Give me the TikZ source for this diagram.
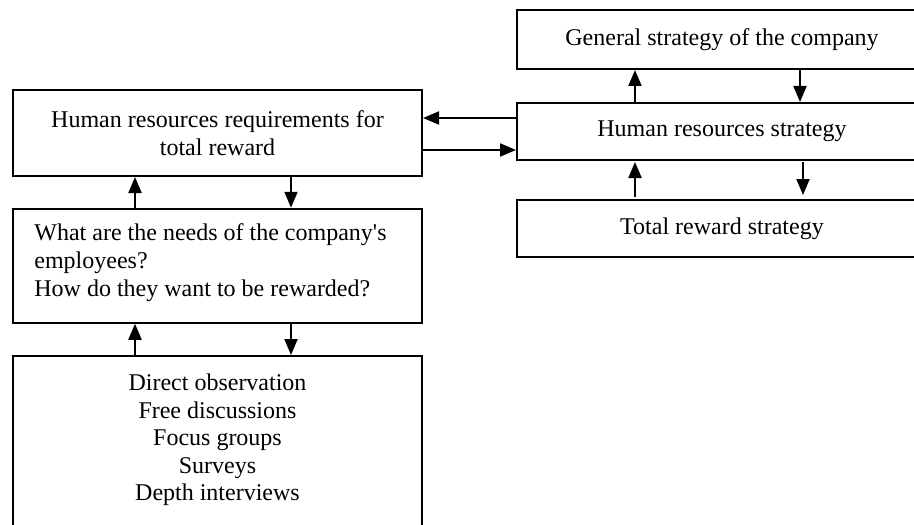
\documentclass[tikz,border=0pt]{standalone}
\usepackage{fontspec}
\setmainfont{Liberation Serif}
\usetikzlibrary{arrows.meta}
\begin{document}
\begin{tikzpicture}[x=0.5pt,y=-0.5pt,
  box/.style={draw, line width=1pt, inner sep=0pt, font=\fontsize{12}{13.8}\selectfont, align=center},
  txt/.style={inner sep=0pt, font=\fontsize{12}{13.8}\selectfont},
  arr/.style={line width=1pt, -{Triangle[length=8pt,width=6.5pt]}}]
\useasboundingbox (0,0) rectangle (914,524);
\clip (0,0) rectangle (914,524);
\node[box, minimum width=205pt, minimum height=29.5pt] (gen) at (722,39.5) {General strategy of the company};
\node[box, minimum width=205pt, minimum height=28.5pt] (hrs) at (722,131.5) {Human resources strategy};
\node[box, minimum width=205pt, minimum height=28.5pt] (trs) at (722,228.5) {Total reward strategy};
\node[box, minimum width=204.5pt, minimum height=42.75pt] (req) at (217.5,133.25) {Human resources requirements for\\total reward};
\node[box, minimum width=204.5pt, minimum height=57pt] (needs) at (217.5,265.75) {};
\node[txt, anchor=north west, align=left] (needst) at (34,223.5) {What are the needs of the company\textquotesingle s\\employees?\\How do they want to be rewarded?};
\node[box, minimum width=204.5pt, minimum height=88pt] (meth) at (217.5,444) {};
\node[txt, anchor=north, align=center] (metht) at (217.5,373.5) {Direct observation\\Free discussions\\Focus groups\\Surveys\\Depth interviews};
\coordinate (xr1) at (635,0);
\coordinate (xr2) at (800,0);
\coordinate (xr3) at (803,0);
\coordinate (xl1) at (135,0);
\coordinate (xl2) at (291,0);
\coordinate (ya) at (0,118);
\coordinate (yb) at (0,150);
\draw[arr] (hrs.north -| xr1) -- (gen.south -| xr1);
\draw[arr] (gen.south -| xr2) -- (hrs.north -| xr2);
\draw[arr, shorten <=1pt, shorten >=0.5pt] (trs.north -| xr1) -- (hrs.south -| xr1);
\draw[arr, shorten <=0.5pt, shorten >=2pt] (hrs.south -| xr3) -- (trs.north -| xr3);
\draw[arr] (hrs.west |- ya) -- (req.east |- ya);
\draw[arr] (req.east |- yb) -- (hrs.west |- yb);
\draw[arr] (needs.north -| xl1) -- (req.south -| xl1);
\draw[arr] (req.south -| xl2) -- (needs.north -| xl2);
\draw[arr] (meth.north -| xl1) -- (needs.south -| xl1);
\draw[arr] (needs.south -| xl2) -- (meth.north -| xl2);
\end{tikzpicture}
\end{document}
